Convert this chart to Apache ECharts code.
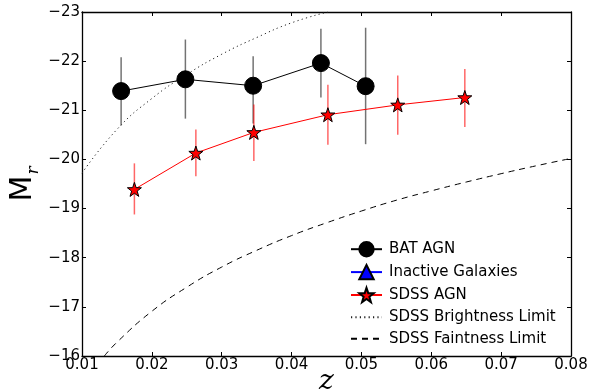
<!DOCTYPE html>
<html>
<head>
<meta charset="utf-8">
<script src="https://cdn.jsdelivr.net/npm/echarts@6/dist/echarts.min.js"></script>
<style>
  html, body { margin: 0; padding: 0; background: #fff; }
  #chart { width: 589px; height: 392px; }
</style>
</head>
<body>
<div id="chart"></div>
<script>
// BAT AGN: redshift, mean absolute r magnitude, error-bar ends
const batZ  = [0.0156, 0.0248, 0.0345, 0.0442, 0.0506];
const batM  = [-21.39, -21.63, -21.50, -21.96, -21.49];
const batHi = [-22.08, -22.44, -22.10, -22.66, -22.68];
const batLo = [-20.69, -20.83, -20.73, -21.26, -20.31];

// Inactive galaxies (no points in this range)
const inactiveZ = [];
const inactiveM = [];

// SDSS AGN
const sdssZ  = [0.0175, 0.0263, 0.0346, 0.0452, 0.0552, 0.0648];
const sdssM  = [-19.39, -20.13, -20.55, -20.91, -21.11, -21.26];
const sdssHi = [-19.92, -20.61, -21.12, -21.52, -21.71, -21.84];
const sdssLo = [-18.88, -19.66, -19.97, -20.30, -20.50, -20.66];

// SDSS brightness limit curve
const brightZ = [0.0100, 0.0150, 0.0200, 0.0250, 0.0300, 0.0350, 0.0400, 0.0452];
const brightM = [-19.72, -20.61, -21.24, -21.73, -22.14, -22.48, -22.78, -23.00];

// SDSS faintness limit curve
const faintZ = [0.0132, 0.015, 0.020, 0.025, 0.030, 0.035, 0.040, 0.045, 0.050, 0.055, 0.060, 0.065, 0.070, 0.075, 0.080];
const faintM = [-16.00, -16.28, -16.91, -17.40, -17.81, -18.15, -18.45, -18.71, -18.95, -19.17, -19.36, -19.54, -19.71, -19.87, -20.02];

// Axis ranges and ticks
const xMin = 0.01, xMax = 0.08, xStep = 0.01;
const yMin = -23, yMax = -16, yStep = 1;

const zip = (a, b) => a.map((v, i) => [v, b[i]]);
const zip3 = (a, b, c) => a.map((v, i) => [v, b[i], c[i]]);

const FONT = 'DejaVu Sans';
const STAR = 'path://M0,-10 L2.35,-3.24 9.51,-3.09 3.8,1.24 5.88,8.09 0,4 -5.88,8.09 -3.8,1.24 -9.51,-3.09 -2.35,-3.24 Z';

function errorBars(color, opacity) {
  return function (params, api) {
    const x = api.value(0);
    const p1 = api.coord([x, api.value(1)]);
    const p2 = api.coord([x, api.value(2)]);
    return {
      type: 'line',
      shape: { x1: p1[0], y1: p1[1], x2: p2[0], y2: p2[1] },
      style: { stroke: color, lineWidth: 1.5, opacity: opacity }
    };
  };
}

const fmtMinus = v => (v < 0 ? '\u2212' : '') + Math.abs(v);

const axisCommon = {
  type: 'value',
  splitLine: { show: false },
  axisLine: { show: true, onZero: false, lineStyle: { color: '#000', width: 1.3 } },
  axisTick: { show: true, inside: true, length: 4, lineStyle: { color: '#000', width: 1 } }
};

const chart = echarts.init(document.getElementById('chart'), null, { renderer: 'canvas' });
chart.setOption({
  animation: false,
  backgroundColor: '#fff',
  textStyle: { fontFamily: FONT },
  grid: { left: 82, right: 18, top: 12, bottom: 36, containLabel: false, outerBoundsMode: 'none' },
  xAxis: [
    Object.assign({}, axisCommon, {
      min: xMin, max: xMax, interval: xStep, position: 'bottom',
      axisLabel: { color: '#000', fontSize: 15, fontFamily: FONT, margin: 2,
                   formatter: v => v.toFixed(2) },
      name: 'z', nameLocation: 'middle', nameGap: 12, nameMoveOverlap: false,
      nameTextStyle: { fontFamily: 'DejaVu Serif', fontStyle: 'italic', fontSize: 28, color: '#000',
                       verticalAlign: 'top' }
    }),
    Object.assign({}, axisCommon, {
      min: xMin, max: xMax, interval: xStep, position: 'top',
      axisLabel: { show: false }
    })
  ],
  yAxis: [
    Object.assign({}, axisCommon, {
      min: yMin, max: yMax, interval: yStep, inverse: true, position: 'left',
      axisLabel: { color: '#000', fontSize: 15, fontFamily: FONT, margin: 2, formatter: fmtMinus },
      name: '{a|M}{b|r}', nameLocation: 'middle', nameRotate: 90, nameGap: 44, nameMoveOverlap: false,
      nameTextStyle: {
        rich: {
          a: { fontFamily: FONT, fontSize: 30, color: '#000', verticalAlign: 'bottom' },
          b: { fontFamily: 'DejaVu Serif', fontStyle: 'italic', fontSize: 17, color: '#000',
               verticalAlign: 'bottom', padding: [0, 0, -4, 1] }
        }
      }
    }),
    Object.assign({}, axisCommon, {
      min: yMin, max: yMax, interval: yStep, inverse: true, position: 'right',
      axisLabel: { show: false }
    })
  ],
  legend: {
    left: 345, top: 236, orient: 'vertical',
    itemWidth: 31, itemHeight: 18, itemGap: 6.5,
    textStyle: { fontFamily: FONT, fontSize: 15, color: '#000', padding: [0, 0, 0, 2] },
    data: [
      'BAT AGN', 'Inactive Galaxies', 'SDSS AGN',
      { name: 'SDSS Brightness Limit', itemStyle: { opacity: 0 } },
      { name: 'SDSS Faintness Limit', itemStyle: { opacity: 0 } }
    ]
  },
  series: [
    {
      name: 'SDSS Brightness Limit', type: 'line', data: zip(brightZ, brightM),
      showSymbol: false, symbol: 'none', smooth: true, clip: true,
      lineStyle: { color: '#222', width: 1, type: [1.2, 3.2] },
      itemStyle: { color: '#222' }
    },
    {
      name: 'SDSS Faintness Limit', type: 'line', data: zip(faintZ, faintM),
      showSymbol: false, symbol: 'none', smooth: true, clip: true,
      lineStyle: { color: '#000', width: 1, type: [6, 5] },
      itemStyle: { color: '#000' }
    },
    {
      name: 'BAT AGN errors', type: 'custom', data: zip3(batZ, batHi, batLo),
      encode: { x: 0, y: [1, 2] }, renderItem: errorBars('#000', 0.55), silent: true, z: 2
    },
    {
      name: 'BAT AGN', type: 'line', data: zip(batZ, batM),
      symbol: 'circle', symbolSize: 17,
      lineStyle: { color: '#000', width: 1 },
      itemStyle: { color: '#000', borderColor: '#000', borderWidth: 1 },
      z: 4
    },
    {
      name: 'Inactive Galaxies', type: 'line', data: zip(inactiveZ, inactiveM),
      symbol: 'triangle', symbolSize: 17,
      lineStyle: { color: '#0000ff', width: 1 },
      itemStyle: { color: '#0000ff', borderColor: '#000', borderWidth: 1 },
      z: 4
    },
    {
      name: 'SDSS AGN errors', type: 'custom', data: zip3(sdssZ, sdssHi, sdssLo),
      encode: { x: 0, y: [1, 2] }, renderItem: errorBars('#ff0000', 0.6), silent: true, z: 3
    },
    {
      name: 'SDSS AGN', type: 'line', data: zip(sdssZ, sdssM),
      symbol: STAR, symbolSize: 14,
      lineStyle: { color: '#ff0000', width: 1 },
      itemStyle: { color: '#ff0000', borderColor: '#000', borderWidth: 1 },
      z: 5
    }
  ]
});
</script>
</body>
</html>
